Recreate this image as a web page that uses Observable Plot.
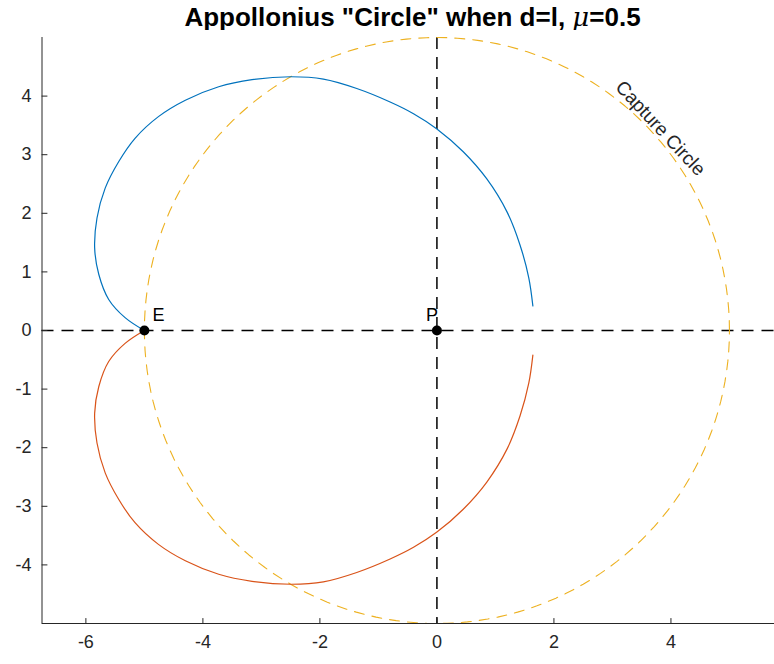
<!DOCTYPE html>
<html>
<head>
<meta charset="utf-8">
<script src="https://cdn.jsdelivr.net/npm/d3@7"></script>
<script src="https://cdn.jsdelivr.net/npm/@observablehq/plot@0.6"></script>
<style>
  body { margin: 0; background: #fff; font-family: "Liberation Sans", Arial, Helvetica, sans-serif; }
  #wrap { position: relative; width: 774px; height: 664px; overflow: hidden; }
  #title {
    position: absolute; top: 3px; left: 0; width: 825px;
    text-align: center; font-weight: bold; font-size: 26px; line-height: 28px; color: #000;
  }
  #title i { font-family: "DejaVu Serif", "Liberation Serif", serif; font-weight: normal; }
  #chart { position: absolute; top: 30px; left: 0; }
</style>
</head>
<body>
<div id="wrap">
  <div id="title">Appollonius "Circle" when d=l, <i>μ</i>=0.5</div>
  <div id="chart"></div>
</div>
<script>
// Boundary of the reachable region: x positions shared by both branches
const curveX = [-5.00, -5.33, -5.61, -5.78, -5.85, -5.81, -5.67, -5.44, -5.16, -4.76, -4.30, -3.73, -3.16,
                -2.50, -1.94, -1.37, -0.80, -0.40, 0.00, 0.45, 0.85, 1.20, 1.42, 1.57, 1.64];
// Upper branch (blue)
const upperY = [0.00, 0.22, 0.53, 0.96, 1.41, 1.92, 2.43, 2.88, 3.28, 3.65, 3.93, 4.16, 4.28,
                4.33, 4.29, 4.13, 3.90, 3.70, 3.44, 3.05, 2.59, 2.02, 1.46, 0.90, 0.42];
// Lower branch (red)
const lowerY = [0.00, -0.22, -0.53, -0.96, -1.41, -1.92, -2.43, -2.88, -3.28, -3.65, -3.93, -4.16, -4.28,
                -4.33, -4.29, -4.13, -3.90, -3.70, -3.44, -3.05, -2.59, -2.02, -1.46, -0.90, -0.42];

// Capture circle centred on the pursuer
const captureRadius = 5;
const captureLabel = "Capture Circle";

// Named points: evader and pursuer
const pointNames = ["E", "P"];
const pointX = [-5, 0];
const pointY = [0, 0];

// Axis limits and tick values
const xDomain = [-6.75, 5.77];
const yDomain = [-5, 5];
const xTicks = [-6, -4, -2, 0, 2, 4];
const yTicks = [-4, -3, -2, -1, 0, 1, 2, 3, 4];

const upper = curveX.map((x, i) => ({x, y: upperY[i]}));
const lower = curveX.map((x, i) => ({x, y: lowerY[i]}));
const circle = d3.range(0, 361, 2).map(a => ({
  x: captureRadius * Math.cos(a * Math.PI / 180),
  y: captureRadius * Math.sin(a * Math.PI / 180)
}));
const points = pointNames.map((name, i) => ({name, x: pointX[i], y: pointY[i]}));

const axisColor = "#262626";
// short inward tick drawn by a vector mark
const inwardTick = {draw(context, l) { context.moveTo(0, 0); context.lineTo(0, -l); }};

const chart = Plot.plot({
  width: 774,
  height: 634,
  marginLeft: 41.5,
  marginRight: 0,
  marginTop: 7,
  marginBottom: 41,
  style: {fontFamily: "'Liberation Sans', Arial, Helvetica, sans-serif", fontSize: "18px", color: axisColor, background: "#fff"},
  x: {domain: xDomain},
  y: {domain: yDomain},
  marks: [
    // dashed reference axes through the pursuer
    Plot.ruleY([0], {stroke: "#000", strokeWidth: 1.5, strokeDasharray: "12,8"}),
    Plot.ruleX([0], {stroke: "#000", strokeWidth: 1.5, strokeDasharray: "12,8"}),
    // capture circle
    Plot.line(circle, {x: "x", y: "y", stroke: "#EDB120", strokeWidth: 1.1, strokeDasharray: "10,8"}),
    Plot.text([captureLabel], {x: 3.82, y: 3.45, text: d => d, rotate: 47, fontSize: 19, fill: axisColor}),
    // the two branches
    Plot.line(upper, {x: "x", y: "y", stroke: "#0072BD", strokeWidth: 1.2, curve: "catmull-rom"}),
    Plot.line(lower, {x: "x", y: "y", stroke: "#D95319", strokeWidth: 1.2, curve: "catmull-rom"}),
    // evader and pursuer
    Plot.dot(points, {x: "x", y: "y", r: 5, fill: "#000"}),
    Plot.text(points.filter(d => d.name === "E"), {x: "x", y: "y", text: "name", dx: 8, dy: -15, textAnchor: "start", fontSize: 18, fill: "#000"}),
    Plot.text(points.filter(d => d.name === "P"), {x: "x", y: "y", text: "name", dx: -11, dy: -15, textAnchor: "start", fontSize: 18, fill: "#000"}),
    // axes: left and bottom lines with inward ticks
    Plot.ruleX([xDomain[0]], {stroke: axisColor, strokeWidth: 1}),
    Plot.ruleY([yDomain[0]], {stroke: axisColor, strokeWidth: 1}),
    Plot.vector(xTicks, {x: d => d, frameAnchor: "bottom", length: 5, rotate: 0, anchor: "start", shape: inwardTick, stroke: axisColor, strokeWidth: 1}),
    Plot.vector(yTicks, {y: d => d, frameAnchor: "left", length: 5, rotate: 90, anchor: "start", shape: inwardTick, stroke: axisColor, strokeWidth: 1}),
    Plot.axisX({ticks: xTicks, tickSize: 0, tickPadding: 12, tickFormat: d => String(d), label: null, fontSize: 18, fill: axisColor}),
    Plot.axisY({ticks: yTicks, tickSize: 0, tickPadding: 10.5, tickFormat: d => String(d), label: null, fontSize: 18, fill: axisColor})
  ]
});
document.getElementById("chart").appendChild(chart);
</script>
</body>
</html>
